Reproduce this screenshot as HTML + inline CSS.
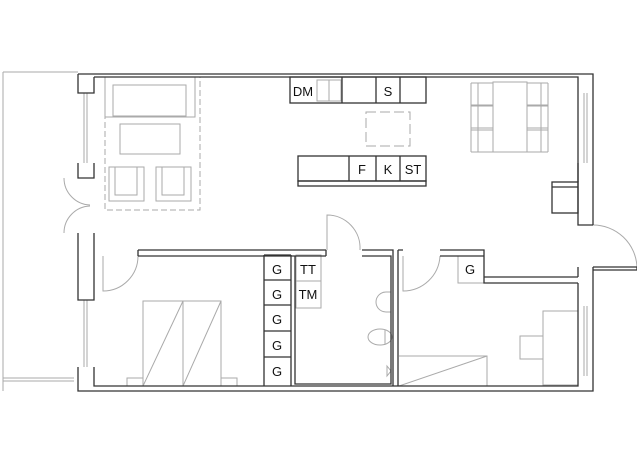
<!DOCTYPE html>
<html><head><style>body{margin:0;background:#fff}svg{display:block}text{font-family:"Liberation Sans",sans-serif;font-size:13px;fill:#111;text-anchor:middle}</style></head>
<body>
<svg width="637" height="458" viewBox="0 0 637 458" xmlns="http://www.w3.org/2000/svg">
<g fill="none" stroke="#aaa" stroke-width="1">
<!-- balcony -->
<path d="M3 72V391M3 72H78M3 378H74M3 381H74"/>
<!-- living -->
<rect x="105" y="77" width="95" height="133" stroke-dasharray="6,3"/>
<rect x="105" y="77" width="90" height="40"/>
<rect x="113" y="85" width="73" height="31"/>
<rect x="120" y="124" width="60" height="30"/>
<rect x="109" y="167" width="35" height="34"/><rect x="115" y="167" width="22" height="28"/>
<rect x="156" y="167" width="35" height="34"/><rect x="162" y="167" width="22" height="28"/>
<!-- island -->
<rect x="366" y="112" width="44" height="34" stroke-dasharray="10,4"/>
<!-- dining -->
<rect x="493" y="82" width="34" height="70"/>
<path d="M471 83H493M471 105H493M471 106H493M471 128H493M471 130H493M471 152H493M471 83V152M478 83V152"/>
<path d="M527 83H548M527 105H548M527 106H548M527 128H548M527 130H548M527 152H548M548 83V152M541 83V152"/>
<rect x="317" y="80" width="24" height="21"/><path d="M329 80V101"/>
<!-- doors -->
<path d="M64 178A27 27 0 0 0 90 205M64 233A27 27 0 0 1 90 206"/>
<path d="M103 256V291A35 35 0 0 0 138 256"/>
<path d="M327 250V215A33 33 0 0 1 360 250"/>
<path d="M403 256V291A37 37 0 0 0 440 256"/>
<path d="M593 225A44 44 0 0 1 637 267"/>
<!-- beds -->
<rect x="143" y="301" width="78" height="85"/><path d="M183 301V386M143 386L183 301M183 386L221 301"/>
<rect x="127" y="378" width="16" height="8"/><rect x="221" y="378" width="16" height="8"/>
<path d="M399 356H487V386M399 386L487 356"/>
<rect x="543" y="311" width="35" height="74"/><rect x="520" y="336" width="23" height="23"/>
<rect x="296" y="255" width="25" height="26"/><rect x="296" y="281" width="25" height="27"/>
<rect x="458" y="256" width="26" height="27"/>
<!-- bath -->
<path d="M391 292H386A10 10 0 0 0 386 312H391"/>
<ellipse cx="380" cy="337" rx="12" ry="8"/><path d="M385 330V344"/>
<path d="M387 366L391 371L387 376Z"/>
<!-- windows -->
<path d="M84 93V163M87 93V163M84 300V367M87 300V367M584 93V163M587 93V163M584 306V376M587 306V376"/>
</g>
<g fill="none" stroke="#333" stroke-width="1.3">
<!-- outer walls -->
<path d="M78 74H593V225M94 77H578V225H593M78 74V93H94V77M78 163V178H94V163M78 233V300H94V233M78 367V391H593V270M94 367V386H578V376"/>
<path d="M578 163V182M578 376V283M593 267V270M578 267V277"/>
<rect x="552" y="182" width="26" height="31"/><path d="M552 187H578"/>
<path d="M593 267H637V270H593"/>
<!-- interior walls -->
<path d="M138 250H326M138 256H326M138 250V256M326 250V256M362 250H393V386M362 256H391V384H295V256M398 250V386M398 250H403M440 250H484V277H578M440 256H484V283H578"/>
<path d="M291 255V386M264 255V386M264 255H291M264 280H291M264 305H291M264 331H291M264 357H291"/>
<!-- kitchen -->
<rect x="290" y="77" width="136" height="26"/><path d="M342 77V103M376 77V103M400 77V103"/>
<rect x="298" y="156" width="128" height="25"/><rect x="298" y="181" width="128" height="5"/>
<path d="M349 156V181M376 156V181M400 156V181"/>
</g>
<text x="303" y="96">DM</text><text x="388" y="96">S</text>
<text x="362" y="174">F</text><text x="388" y="174">K</text><text x="413" y="174">ST</text>
<text x="277" y="274">G</text><text x="277" y="299">G</text><text x="277" y="324">G</text><text x="277" y="350">G</text><text x="277" y="376">G</text>
<text x="308" y="274">TT</text><text x="308" y="299">TM</text><text x="470" y="274">G</text>
</svg>
</body></html>
